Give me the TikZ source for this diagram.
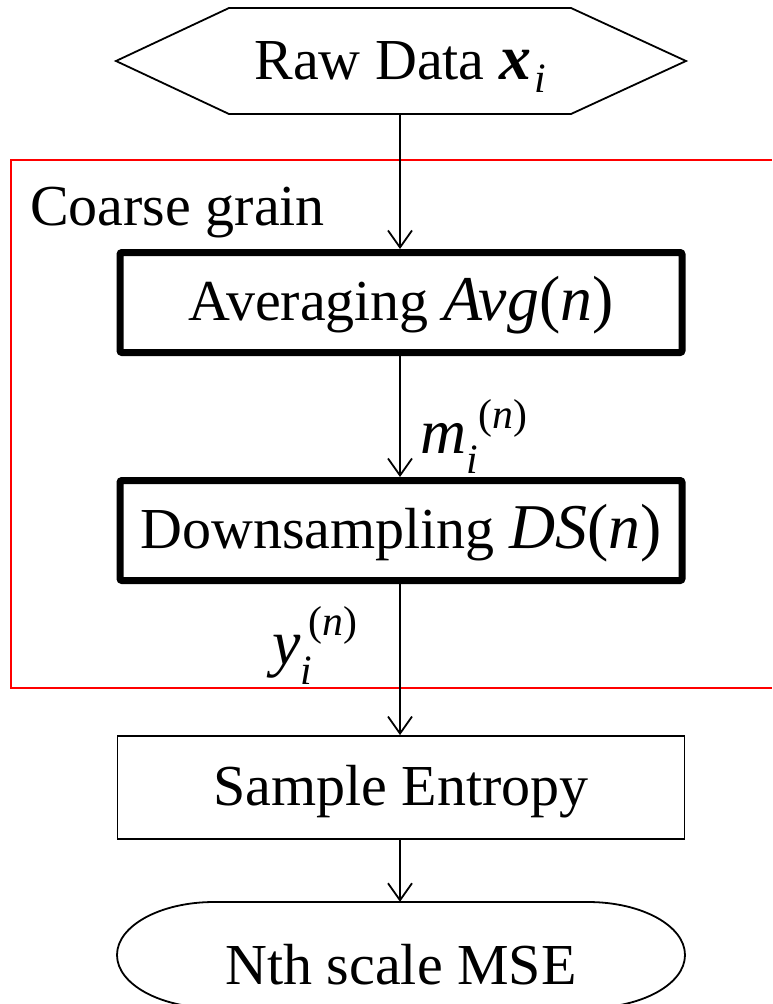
\documentclass[tikz,border=0pt]{standalone}
\usepackage{fontspec}
\setmainfont{Liberation Serif}
\newfontfamily\symfont{Liberation Serif}[Scale=1.1]
\usetikzlibrary{arrows.meta}

% symbols: italic letters, upright parentheses, small indices
\newcommand{\sym}[1]{{\symfont\itshape #1}}
\newcommand{\symsmall}[1]{{\fontsize{38}{40}\selectfont\symfont #1}}
\newcommand{\idx}[3]{\sym{#1}\rlap{\raisebox{-20pt}{\symsmall{\itshape i}}}\hspace{#2}\raisebox{#3}{\symsmall{(\itshape n\/\upshape)}}}

\tikzset{
  big/.style={font=\fontsize{58}{70}\selectfont, text height=42pt, text depth=6pt},
  label/.style={font=\fontsize{58}{70}\selectfont, inner sep=0pt},
  thickbox/.style={draw, line width=7pt, rounded corners=2pt, big,
                   minimum width=562pt, minimum height=100pt, inner sep=0pt},
  thinbox/.style={draw, line width=1.8pt, big,
                  minimum width=567pt, minimum height=103pt, inner sep=0pt},
  plain/.style={big, inner sep=0pt, minimum width=570pt, minimum height=106pt},
  flow/.style={line width=1.8pt, -{Straight Barb[length=17pt, width=24pt, line width=1.8pt]}},
  edge/.style={line width=1.8pt, line join=miter},
  frame/.style={draw=red, line width=2pt}
}

\begin{document}
\begin{tikzpicture}[x=1pt, y=-1pt]
  \useasboundingbox (0,0) rectangle (772,1004);

  % coarse-graining stage
  \draw[frame] (772,160) -- (11,160) -- (11,688) -- (772,688);
  \node[label, anchor=base west] (cg) at (30,225) {Coarse grain};

  % input
  \node[plain] (raw) at (400,61)
    {Raw Data {\symfont\bfseries\itshape x}\hspace{3pt}\raisebox{-13pt}{\symsmall{\itshape i}}};
  \draw[edge] (116,61) -- (229,8) -- (571,8) -- (686,61) -- (571,114) -- (229,114) -- cycle;

  % processing steps
  \node[thickbox] (avg) at (401,302.5) {Averaging \sym{Avg}\sym{\upshape(}\sym{n}\sym{\upshape)}};
  \node[thickbox] (ds)  at (401,530.5) {Downsampling \sym{DS}\sym{\upshape(}\sym{n}\sym{\upshape)}};
  \node[thinbox]  (se)  at (401,787.5) {Sample Entropy};

  % output
  \node[inner sep=0pt, minimum width=570pt, minimum height=106pt] (mse) at (401,955) {};
  \node[label, anchor=base] (msetext) at (401,984) {Nth scale MSE};
  \draw[edge] (214,902) -- (588,902)
    arc[start angle=-90, end angle=90, x radius=97, y radius=53]
    -- (214,1008)
    arc[start angle=90, end angle=270, x radius=97, y radius=53];

  % connectors
  \draw[flow] (raw.south -| 400,0) -- (avg.north -| 400,0);
  \draw[flow] (avg.south -| 400,0) -- (ds.north -| 400,0);
  \draw[flow] (ds.south -| 400,0) -- (se.north -| 400,0);
  \draw[flow] (se.south -| 400,0) -- (mse.north -| 400,0);

  % signal labels
  \node[label, anchor=base west] (m) at (420,453) {\idx{m}{12pt}{25pt}};
  \node[label, anchor=base west] (y) at (272,664) {\idx{y}{8pt}{29pt}};
\end{tikzpicture}
\end{document}
